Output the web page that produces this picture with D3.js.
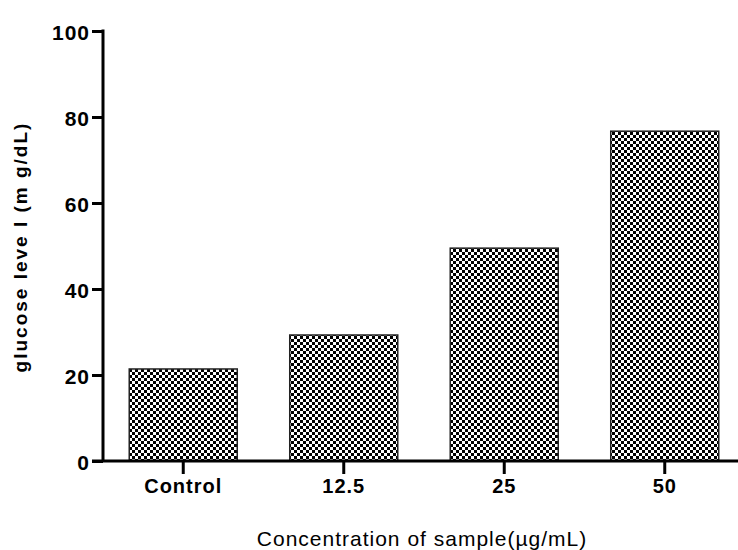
<!DOCTYPE html>
<meta charset="utf-8">
<script src="https://d3js.org/d3.v7.min.js"></script>
<style>
body { margin: 0; background: #fff; }
text { font-family: "Liberation Sans", Arial, sans-serif; fill: #000; }
</style>
<body></body>
<script>

  // DATA
  const categories = ["Control", "12.5", "25", "50"];
  const glucose = [21.4, 29.3, 49.5, 76.7];
  const yTicks = [0, 20, 40, 60, 80, 100];

  const width = 738;
  const height = 550;
  const axisX = 103;
  const axisY = 461;
  const topY = 31;

  const SVG = d3.select("body").append("svg")
    .attr("width", width)
    .attr("height", height);

  // checker pattern
  const defs = SVG.append("defs");
  const pat = defs.append("pattern")
    .attr("id", "checker")
    .attr("width", 6)
    .attr("height", 6)
    .attr("patternUnits", "userSpaceOnUse");
  pat.append("rect").attr("width", 6).attr("height", 6).attr("fill", "#fff");
  pat.append("rect").attr("x", 0).attr("y", 0).attr("width", 3).attr("height", 3).attr("fill", "#000");
  pat.append("rect").attr("x", 3).attr("y", 3).attr("width", 3).attr("height", 3).attr("fill", "#000");

  let xScale = d3.scaleBand()
    .domain(categories)
    .range([axisX, 745])
    .paddingInner(0.327)
    .paddingOuter(0.1635);

  let yScale = d3.scaleLinear()
    .domain([0, 100])
    .range([axisY, topY]);

  // BARS
  SVG.selectAll(".bar")
    .data(glucose)
    .enter().append("rect")
      .attr("class", "bar")
      .attr("x", (d, i) => xScale(categories[i]))
      .attr("y", d => yScale(d))
      .attr("width", xScale.bandwidth())
      .attr("height", d => yScale(0) - yScale(d))
      .attr("fill", "url(#checker)")
      .attr("stroke", "#222")
      .attr("stroke-width", 1.5);

  // Y AXIS
  const yAxis = SVG.append("g")
    .attr("transform", "translate(" + axisX + ",0)")
    .call(d3.axisLeft(yScale).tickValues(yTicks).tickSize(11).tickPadding(2));
  yAxis.select(".domain").remove();
  yAxis.append("line")
    .attr("x1", 0).attr("x2", 0)
    .attr("y1", topY - 1.5).attr("y2", axisY)
    .attr("stroke", "#000").attr("stroke-width", 3);
  yAxis.selectAll(".tick line").attr("stroke-width", 3);
  yAxis.selectAll(".tick text")
    .style("font-size", "21px")
    .style("font-weight", "bold")
    .style("letter-spacing", "1px")
    .attr("dy", "0.4em");

  // X AXIS
  const xAxis = SVG.append("g")
    .attr("transform", "translate(0," + axisY + ")")
    .call(d3.axisBottom(xScale).tickSize(13).tickPadding(5));
  xAxis.select(".domain").remove();
  xAxis.append("line")
    .attr("x1", axisX - 11).attr("x2", width)
    .attr("y1", 0).attr("y2", 0)
    .attr("stroke", "#000").attr("stroke-width", 3);
  xAxis.selectAll(".tick line").attr("stroke-width", 3);
  xAxis.selectAll(".tick text")
    .style("font-size", "20px")
    .style("font-weight", "bold")
    .style("letter-spacing", "1px");

  // TITLES
  SVG.append("text")
    .attr("transform", "translate(27," + 247 + ") rotate(-90)")
    .attr("text-anchor", "middle")
    .style("font-weight", "bold")
    .style("font-size", "19px")
    .style("letter-spacing", "2px")
    .text("glucose leve l (m g/dL)");

  SVG.append("text")
    .attr("x", 422)
    .attr("y", 546)
    .attr("text-anchor", "middle")
    .style("font-size", "21px")
    .style("letter-spacing", "1px")
    .text("Concentration of sample(µg/mL)");

</script>
